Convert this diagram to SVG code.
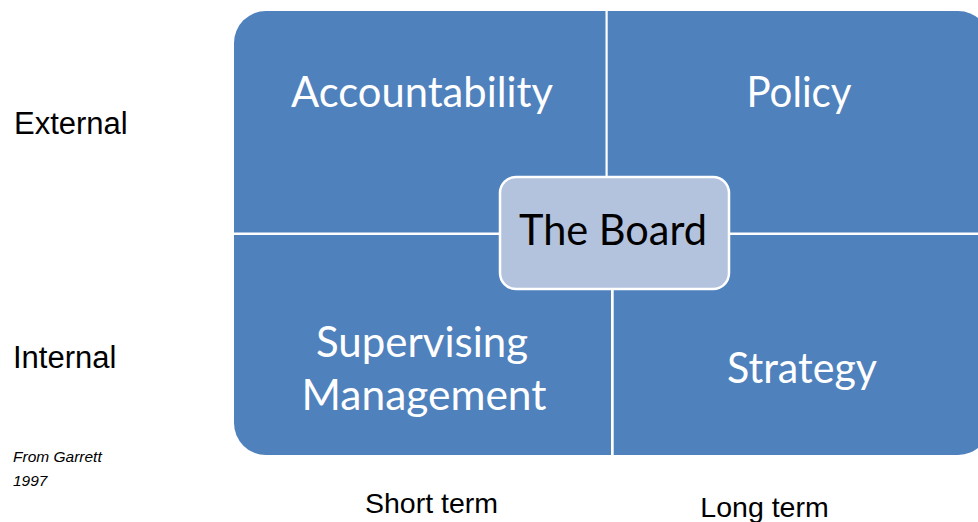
<svg xmlns="http://www.w3.org/2000/svg" width="978" height="522" viewBox="0 0 978 522">
<style>
.quad{fill:#4f81bd;}
.qt{font-family:Lato,"Open Sans",sans-serif;font-size:43px;fill:#ffffff;text-anchor:middle;}
.board{fill:#b3c3de;stroke:#ffffff;stroke-width:2.5;}
.bt{font-family:Lato,"Open Sans",sans-serif;font-size:43px;fill:#000000;text-anchor:middle;}
.lab{font-family:"Liberation Sans",Arial,sans-serif;font-size:31px;fill:#000000;}
.axis{font-family:"Liberation Sans",Arial,sans-serif;font-size:28.5px;fill:#000000;text-anchor:middle;}
.src{font-family:"Liberation Sans",Arial,sans-serif;font-size:15.5px;font-style:italic;fill:#000000;}
</style>
<rect width="978" height="522" fill="#ffffff"/>
<g id="accountability">
<path class="quad" d="M234,232.5 V43 A32,32 0 0 1 266,11 H605.5 V232.5 Z"/>
<text class="qt" x="422" y="107" textLength="262" lengthAdjust="spacingAndGlyphs">Accountability</text>
</g>
<g id="policy">
<path class="quad" d="M607.7,232.5 V11 H958 A32,32 0 0 1 990,43 V232.5 Z"/>
<text class="qt" x="799" y="107" textLength="105" lengthAdjust="spacingAndGlyphs">Policy</text>
</g>
<g id="supervising-management">
<path class="quad" d="M234,235 H611 V455 H266 A32,32 0 0 1 234,423 Z"/>
<text class="qt" x="422" y="357" textLength="212" lengthAdjust="spacingAndGlyphs">Supervising</text>
<text class="qt" x="424" y="410" textLength="245" lengthAdjust="spacingAndGlyphs">Management</text>
</g>
<g id="strategy">
<path class="quad" d="M613.7,235 H990 V423 A32,32 0 0 1 958,455 H613.7 Z"/>
<text class="qt" x="802" y="383" textLength="150" lengthAdjust="spacingAndGlyphs">Strategy</text>
</g>
<g id="the-board">
<rect class="board" x="500" y="177" width="229" height="112" rx="16" ry="16"/>
<text class="bt" x="613" y="245" textLength="188" lengthAdjust="spacingAndGlyphs">The Board</text>
</g>
<g id="connectors"></g>
<g id="labels">
<text class="lab" x="14" y="134">External</text>
<text class="lab" x="13" y="368">Internal</text>
<text class="axis" x="431.5" y="513">Short term</text>
<text class="axis" x="764.5" y="517">Long term</text>
<text class="src" x="13" y="462">From Garrett</text>
<text class="src" x="13" y="486">1997</text>
</g>
</svg>
